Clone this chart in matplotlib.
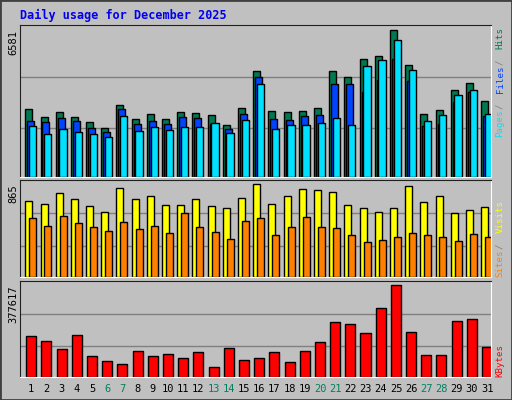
import matplotlib
matplotlib.use("Agg")
from matplotlib import pyplot as plt
import numpy as np

days = [str(d) for d in range(1, 32)]
weekend = [6, 7, 13, 14, 20, 21, 27, 28]

# values (approximate)
hits = [3047, 2690, 2913, 2690, 2467, 2199, 3226, 2600, 2824, 2600,
        2913, 2869, 2779, 2333, 3092, 4744, 2958, 2913, 2958, 3092,
        4744, 4476, 5280, 5414, 6581, 5012, 2824, 3003, 3896, 4208, 3405]
files = [2511, 2467, 2645, 2511, 2199, 2020, 3047, 2377, 2511, 2377,
         2690, 2645, 2377, 2154, 2824, 4476, 2600, 2556, 2735, 2779,
         4164, 4164, 3812, 4356, 5280, 4298, 2258, 2377, 3361, 3812, 2735]
pages = [2288, 1931, 2154, 2020, 1931, 1797, 2735, 2065, 2243, 2109,
         2243, 2243, 2422, 1976, 2556, 4164, 2154, 2333, 2333, 2422,
         2645, 2333, 4976, 5244, 6134, 4797, 2511, 2779, 3673, 3896, 2824]
visits = [714, 686, 780, 733, 667, 611, 827, 733, 752, 677,
          677, 724, 667, 649, 740, 865, 686, 761, 818, 808,
          790, 677, 649, 611, 649, 846, 696, 752, 602, 630, 658]
sites = [555, 480, 574, 508, 470, 433, 517, 451, 480, 414,
         602, 470, 423, 357, 527, 555, 395, 470, 564, 470,
         461, 395, 329, 348, 376, 414, 395, 376, 339, 405, 376]
kbytes = [167975, 147303, 114228, 172109, 85287, 64615, 52212, 106960, 85287, 93556,
          77018, 101448, 42569, 117984, 68749, 77018, 101448, 60481, 106960, 141764,
          224455, 216186, 179089, 282448, 377617, 186600, 89421, 89421, 228589, 236858, 122118]

BG = "#c0c0c0"
GRID = "#808080"
c_hits, c_files, c_pages = "#007850", "#0044ff", "#00e0ff"
c_visits, c_sites, c_kb = "#ffff00", "#ff8000", "#ff0000"
WEEKEND_C = "#008060"

W, H = 512, 400
fig = plt.figure(figsize=(W / 100, H / 100), dpi=100, facecolor=BG)
fig.patches.append(plt.Rectangle((0, 0), 1, 1, transform=fig.transFigure,
                                 fill=False, ec="#404040", lw=2))
plt.rcParams["font.family"] = "DejaVu Sans Mono"


def ax_px(x0, y0, x1, y1):
    return fig.add_axes([x0 / W, 1 - y1 / H, (x1 - x0) / W, (y1 - y0) / H])


x = np.arange(31)


def panel(ax, ymax, series, maxval):
    ax.set_facecolor(BG)
    ax.set_xlim(0, 31)
    ax.set_ylim(0, ymax)
    for f in (0.32, 0.655):
        ax.axhline(ymax * f, color=GRID, lw=1, zorder=0)
    for vals, left, right, col in series:
        ax.bar(x + left, vals, width=right - left, align="edge", color=col,
               edgecolor="black", lw=1, zorder=2)
    ax.set_xticks([])
    ax.set_yticks([])
    for s in ("top", "left"):
        ax.spines[s].set_color("#202020")
    for s in ("bottom", "right"):
        ax.spines[s].set_color("white")
    ax.text(-0.004, maxval / ymax, str(maxval), transform=ax.transAxes,
            rotation=90, ha="right", va="top", fontsize=7.5)


ax1 = ax_px(20, 25, 491, 177)
panel(ax1, 6791, [(hits, 0.35, 0.81, c_hits), (files, 0.48, 0.94, c_files),
                  (pages, 0.59, 1.07, c_pages)], 6581)
ax2 = ax_px(20, 180, 491, 277)
panel(ax2, 906, [(visits, 0.35, 0.81, c_visits), (sites, 0.61, 1.07, c_sites)], 865)
ax3 = ax_px(20, 281, 491, 377)
panel(ax3, 394155, [(kbytes, 0.41, 1.07, c_kb)], 377617)

fig.text(20 / W, 1 - 15 / H, "Daily usage for December 2025", color="#0000ee",
         fontsize=8.5, fontweight="bold", va="center", ha="left")

# day labels
for i, d in enumerate(days):
    col = WEEKEND_C if (i + 1) in weekend else "black"
    fig.text((20 + (i + 0.74) * 15.2) / W, 1 - 389 / H, d, ha="center", va="center",
             fontsize=7.5, color=col)

FS = 6.6
STEP = FS * 100 / 72 * 0.602


def side_label(parts, y_bottom):
    y = y_bottom
    for txt, col in parts:
        fig.text(500 / W, 1 - y / H, txt.strip(), rotation=90, ha="center", va="bottom",
                 fontsize=FS, color=col)
        y -= len(txt) * STEP


side_label([("Pages", c_pages), (" / ", GRID), ("Files", c_files), (" / ", GRID),
            ("Hits", c_hits)], 137)
side_label([("Sites", c_sites), (" / ", GRID), ("Visits", c_visits)], 277)
side_label([("KBytes", c_kb)], 377)

fig.savefig("out.png", dpi=100, facecolor=BG)
